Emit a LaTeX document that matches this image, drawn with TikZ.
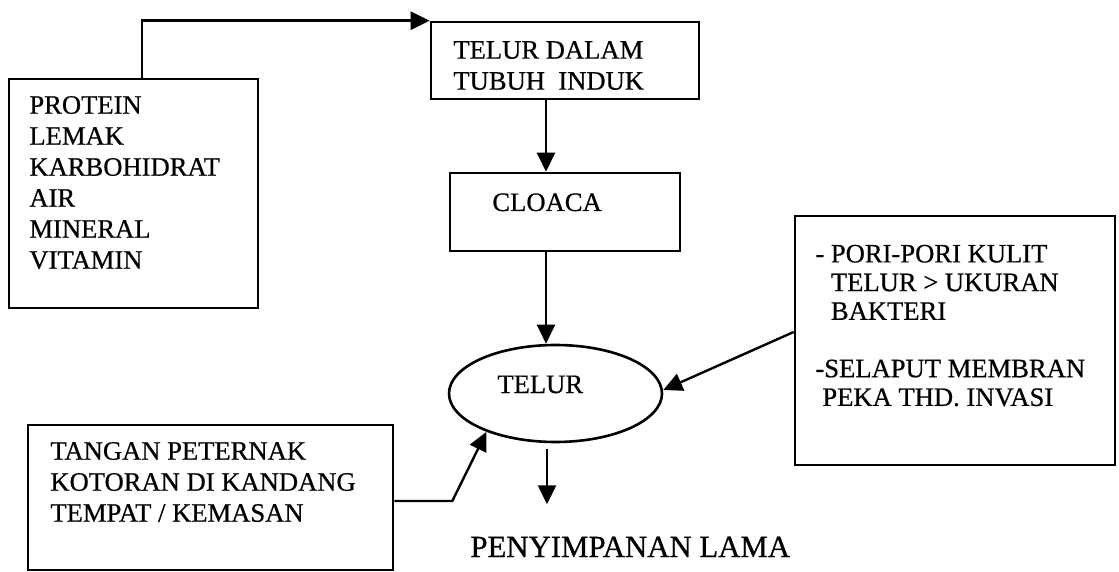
\documentclass[tikz,border=0pt]{standalone}
\usepackage{fontspec}
\setmainfont{Liberation Serif}[FakeBold=0.6]
\usetikzlibrary{arrows.meta,shapes.geometric,fit}
\begin{document}
\begin{tikzpicture}[x=0.5pt,y=-0.5pt,
  box/.style={draw, line width=1.3pt, inner sep=0pt, rectangle},
  lbl/.style={inner sep=0pt, font=\fontsize{13.3}{15.5}\selectfont, align=left},
  rlbl/.style={inner sep=0pt, font=\fontsize{13.3}{14.35}\selectfont, align=left},
  arr/.style={line width=1.2pt, -{Triangle[length=9.5pt,width=9pt]}}]
\useasboundingbox (0,0) rectangle (1119,572);
% boxes
\node[box, fit={(9,79) (258,308)}] (inputs) {};
\node[box, fit={(431,22) (699,99)}] (induk) {};
\node[box, fit={(450,173) (680,251)}] (cloaca) {};
\node[draw, line width=1.3pt, ellipse, inner sep=0pt, minimum width=106.5pt, minimum height=48.5pt] (telur) at (555.5,393.5) {};
\node[box, fit={(795,216) (1115,465)}] (barrier) {};
\node[box, fit={(28,425) (393,570)}] (sources) {};
% texts
\node[lbl, anchor=north west] (inputstxt) at (29,95.7) {PROTEIN\\LEMAK\\KARBOHIDRAT\\AIR\\MINERAL\\VITAMIN};
\node[lbl, anchor=north west] (induktxt) at (453,40.7) {TELUR DALAM\\TUBUH\ \ INDUK};
\node[lbl, anchor=base west] (cloacatxt) at (492,211) {CLOACA};
\node[lbl, anchor=base west] (telurtxt) at (497,393) {TELUR};
\node[rlbl, anchor=north west] (barriertxt) at (815,244.4) {- PORI-PORI KULIT\\\phantom{- }TELUR > UKURAN\\\phantom{- }BAKTERI\\[14.35pt]-SELAPUT MEMBRAN\\\hspace*{3.5pt}PEKA THD. INVASI};
\node[lbl, anchor=north west] (sourcestxt) at (50,441.7) {TANGAN PETERNAK\\KOTORAN DI KANDANG\\TEMPAT / KEMASAN};
\node[inner sep=0pt, anchor=base west, font=\fontsize{15.4}{18}\selectfont] (storage) at (470,557) {PENYIMPANAN LAMA};
% connectors
\draw[arr] ([xshift=67pt]inputs.north west) |- (induk.north west);
\draw[arr] ([xshift=-9.5pt]induk.south) -- ([xshift=-9.5pt]cloaca.north);
\draw[arr] ([xshift=-9.5pt]cloaca.south) -- ([xshift=-9.5pt]cloaca.south |- telur.north);
\draw[arr] ([xshift=-4.25pt,yshift=-3pt]telur.south) -- ++(0,55);
\draw[arr] ([yshift=4.25pt]barrier.west) -- ([yshift=1.75pt]telur.east);
\draw[arr] ([yshift=-1.75pt]sources.east) -- ++(58,0) -- (telur.209);
\end{tikzpicture}
\end{document}
